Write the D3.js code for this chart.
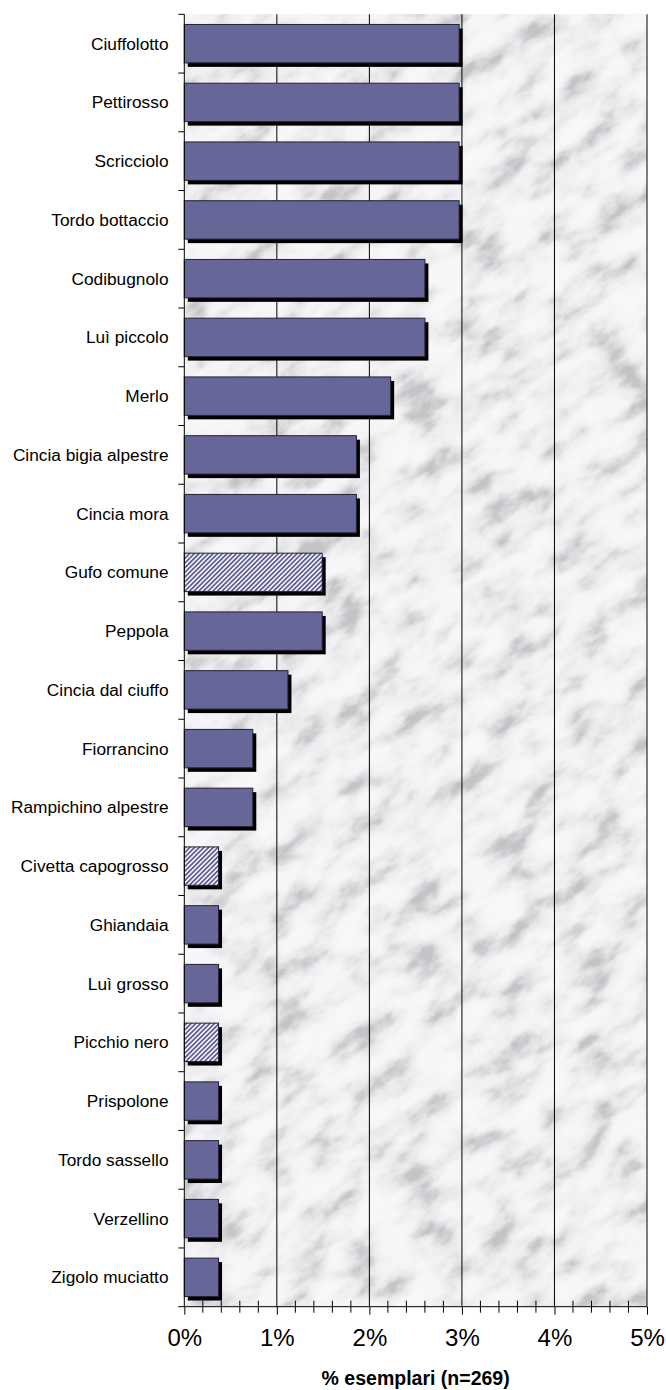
<!DOCTYPE html>
<html>
<head>
<meta charset="utf-8">
<script src="https://cdn.jsdelivr.net/npm/d3@7"></script>
<style>
  html, body { margin: 0; padding: 0; background: #ffffff; }
  svg { display: block; font-family: "Liberation Sans", Arial, sans-serif; }
  text { white-space: pre; }
</style>
</head>
<body>
<svg id="chart" width="666" height="1390"></svg>
<script>
// ---- data ----
const categories = [
  "Ciuffolotto", "Pettirosso", "Scricciolo", "Tordo bottaccio", "Codibugnolo",
  "Luì piccolo", "Merlo", "Cincia bigia alpestre", "Cincia mora", "Gufo comune",
  "Peppola", "Cincia dal ciuffo", "Fiorrancino", "Rampichino alpestre",
  "Civetta capogrosso", "Ghiandaia", "Luì grosso", "Picchio nero", "Prispolone",
  "Tordo sassello", "Verzellino", "Zigolo muciatto"
];
const values = [
  2.97, 2.97, 2.97, 2.97, 2.60,
  2.60, 2.23, 1.86, 1.86, 1.49,
  1.49, 1.12, 0.74, 0.74,
  0.37, 0.37, 0.37, 0.37, 0.37,
  0.37, 0.37, 0.37
];
const hatched = ["Gufo comune", "Civetta capogrosso", "Picchio nero"];
const xTicks = [0, 1, 2, 3, 4, 5];
const xTickLabels = ["0%", "1%", "2%", "3%", "4%", "5%"];
const xTitle = "% esemplari (n=269)";

// ---- layout ----
const pLeft = 184.3, pRight = 647, pTop = 14.3, pBottom = 1306.7;
const svg = d3.select("#chart");

const x = d3.scaleLinear().domain([0, 5]).range([pLeft, pRight]);
const y = d3.scaleBand().domain(categories).range([pTop, pBottom]).paddingInner(0.346).paddingOuter(0.173);

const defs = svg.append("defs");

// marble texture
const f = defs.append("filter").attr("id", "marble")
  .attr("filterUnits", "userSpaceOnUse")
  .attr("x", -1000).attr("y", -1000).attr("width", 3000).attr("height", 3000);
f.append("feTurbulence").attr("type", "fractalNoise")
  .attr("baseFrequency", "0.022 0.04").attr("numOctaves", 6).attr("seed", 11).attr("result", "n");
f.append("feColorMatrix").attr("type", "matrix")
  .attr("values", "1.7 0 0 0 -0.35  1.7 0 0 0 -0.35  1.7 0 0 0 -0.35  0 0 0 0 1");
const ct = f.append("feComponentTransfer");
ct.append("feFuncR").attr("type", "table").attr("tableValues", "0.55 0.68 0.8 0.87 0.91 0.93 0.94");
ct.append("feFuncG").attr("type", "table").attr("tableValues", "0.55 0.68 0.8 0.87 0.91 0.93 0.94");
ct.append("feFuncB").attr("type", "table").attr("tableValues", "0.57 0.70 0.82 0.89 0.93 0.95 0.96");

defs.append("clipPath").attr("id", "plotClip")
  .append("rect").attr("x", pLeft).attr("y", pTop).attr("width", pRight - pLeft).attr("height", pBottom - pTop);

// hatch pattern
const pat = defs.append("pattern").attr("id", "hatch")
  .attr("patternUnits", "userSpaceOnUse").attr("width", 3.3).attr("height", 3.3)
  .attr("patternTransform", "rotate(45)");
pat.append("rect").attr("width", 3.3).attr("height", 3.3).attr("fill", "#ffffff");
pat.append("rect").attr("width", 1.8).attr("height", 3.3).attr("fill", "#5c5c96");

// background
const bg = svg.append("g").attr("clip-path", "url(#plotClip)");
bg.append("rect").attr("x", pLeft).attr("y", pTop).attr("width", pRight - pLeft).attr("height", pBottom - pTop).attr("fill", "#e0e0e4");
bg.append("g").attr("transform", `rotate(-35 ${(pLeft + pRight) / 2} ${(pTop + pBottom) / 2})`)
  .append("rect")
  .attr("x", (pLeft + pRight) / 2 - 900).attr("y", (pTop + pBottom) / 2 - 900)
  .attr("width", 1800).attr("height", 1800)
  .attr("filter", "url(#marble)");

// gridlines
svg.append("g").selectAll("line").data(xTicks.filter(d => d > 0)).join("line")
  .attr("x1", d => x(d)).attr("x2", d => x(d))
  .attr("y1", pTop).attr("y2", pBottom)
  .attr("stroke", "#000").attr("stroke-width", 1);

// bars
const bars = svg.append("g");
const data = categories.map((c, i) => ({ c, v: values[i], h: hatched.includes(c) }));
bars.selectAll("rect.shadow").data(data).join("rect").attr("class", "shadow")
  .attr("x", x(0) + 3.5).attr("y", d => y(d.c) + 4)
  .attr("width", d => x(d.v) - x(0)).attr("height", y.bandwidth())
  .attr("fill", "#000");
bars.selectAll("rect.bar").data(data).join("rect").attr("class", "bar")
  .attr("x", x(0)).attr("y", d => y(d.c))
  .attr("width", d => x(d.v) - x(0)).attr("height", y.bandwidth())
  .attr("fill", d => d.h ? "url(#hatch)" : "#666699")
  .attr("stroke", "#222233").attr("stroke-width", 1);

// y axis
const yAxisG = svg.append("g");
yAxisG.append("line").attr("x1", pLeft).attr("x2", pLeft).attr("y1", pTop).attr("y2", pBottom)
  .attr("stroke", "#000").attr("stroke-width", 1);
const bounds = categories.map(c => y(c) - y.step() * y.paddingOuter()).concat([pBottom]);
yAxisG.selectAll("line.tk").data(bounds).join("line").attr("class", "tk")
  .attr("x1", pLeft - 6).attr("x2", pLeft).attr("y1", d => d).attr("y2", d => d)
  .attr("stroke", "#000");
yAxisG.selectAll("text").data(categories).join("text")
  .attr("x", 168.5).attr("y", d => y(d) + y.bandwidth() / 2)
  .attr("text-anchor", "end").attr("dominant-baseline", "central")
  .attr("font-size", 17.3).attr("fill", "#000")
  .text(d => d);

// x axis
const xAxisG = svg.append("g").attr("transform", `translate(0,${pBottom})`)
  .call(d3.axisBottom(x).tickValues(xTicks).tickSize(8).tickPadding(14)
    .tickFormat((d, i) => xTickLabels[i]));
xAxisG.select(".domain").attr("stroke", "#000").attr("d", `M${pLeft},0H${pRight}`);
xAxisG.selectAll(".tick line").attr("stroke", "#000");
xAxisG.selectAll(".tick text").attr("font-size", 24).attr("fill", "#000")
  .attr("font-family", "\"Liberation Sans\", Arial, sans-serif");
const minor = d3.range(0, 25).map(i => i * 0.2).filter(d => Math.abs(d - Math.round(d)) > 1e-6);
svg.append("g").selectAll("line").data(minor).join("line")
  .attr("x1", d => x(d)).attr("x2", d => x(d))
  .attr("y1", pBottom - 6).attr("y2", pBottom + 6)
  .attr("stroke", "#000");

svg.append("text").attr("x", (pLeft + pRight) / 2).attr("y", 1385)
  .attr("text-anchor", "middle").attr("font-size", 19.5).attr("font-weight", "bold")
  .text(xTitle);
</script>
</body>
</html>
